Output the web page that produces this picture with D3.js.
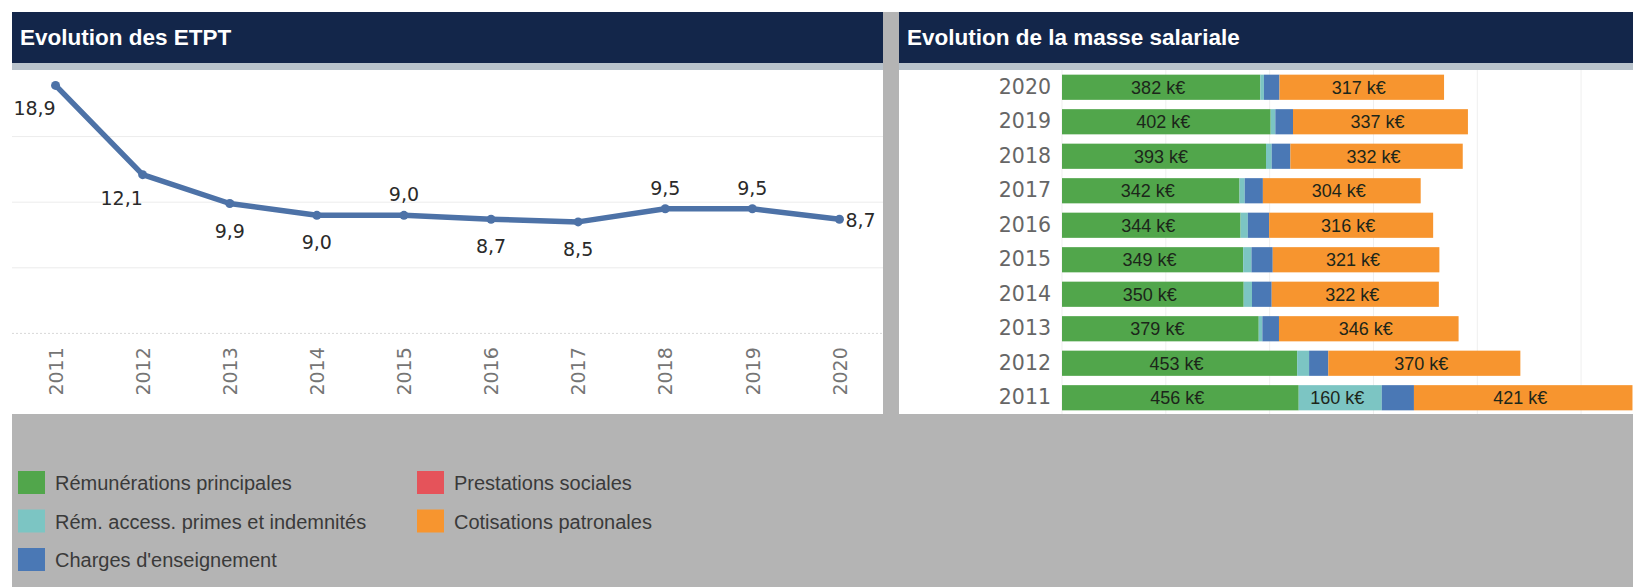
<!DOCTYPE html>
<html><head><meta charset="utf-8">
<script src="https://cdn.jsdelivr.net/npm/d3@7"></script>
<style>
html,body{margin:0;padding:0;background:#fff;}
svg{display:block;}
</style></head>
<body>
<svg id="chart" width="1633" height="587"></svg>
<script>
// ---------- DATA ----------
const years = ["2011","2012","2013","2014","2015","2016","2017","2018","2019","2020"];
const etpt = [18.9, 12.1, 9.9, 9.0, 9.0, 8.7, 8.5, 9.5, 9.5, 8.7];
const etptLabelPlace = ["leftBelow","leftBelow","below","below","above","below","below","above","above","right"];

const barYears = ["2020","2019","2018","2017","2016","2015","2014","2013","2012","2011"];
const remPrincipales = [382, 402, 393, 342, 344, 349, 350, 379, 453, 456];
const remAccess      = [7, 9, 11, 10, 14, 16, 16, 7, 23, 160];
const chargesEns     = [30, 34, 36, 35, 41, 41, 38, 32, 37, 62];
const prestations    = [0, 0, 0, 0, 0, 0, 0, 0, 0, 0];
const cotisations    = [317, 337, 332, 304, 316, 321, 322, 346, 370, 421];
const seriesNames = ["Rémunérations principales","Rém. access. primes et indemnités","Charges d'enseignement","Prestations sociales","Cotisations patronales"];
const seriesColors = ["#51a64b","#7cc5c3","#4a78b5","#e5535a","#f7952f"];
const xTicks = [0,200,400,600,800,1000];
const yTicks = [5,10,15];

// ---------- LAYOUT ----------
const svg = d3.select("#chart");
const W = 1633, H = 587;
const navy = "#13264a", strip = "#b9c3cc", gray = "#b4b4b4";

svg.append("rect").attr("x",12).attr("y",12).attr("width",W-12).attr("height",H-12).attr("fill",gray);

function panel(x, w, title){
  svg.append("rect").attr("x",x).attr("y",12).attr("width",w).attr("height",51).attr("fill",navy);
  svg.append("rect").attr("x",x).attr("y",63).attr("width",w).attr("height",7).attr("fill",strip);
  svg.append("rect").attr("x",x).attr("y",70).attr("width",w).attr("height",344).attr("fill","#fff");
  svg.append("text").attr("x",x+8).attr("y",45).text(title)
    .attr("fill","#fff").attr("font-family","'Liberation Sans', Arial, sans-serif")
    .attr("font-weight","bold").attr("font-size",22.5);
}
panel(12, 871, "Evolution des ETPT");
panel(899, 734, "Evolution de la masse salariale");

// ---------- LINE CHART ----------
const xL = d3.scalePoint().domain(years).range([12, 883]).padding(0.5);
const yL = d3.scaleLinear().domain([0, 20]).range([333.4, 71]);

const gL = svg.append("g");
gL.selectAll("line.grid").data(yTicks).join("line")
  .attr("x1",12).attr("x2",883).attr("y1",d=>yL(d)).attr("y2",d=>yL(d))
  .attr("stroke","#ececec").attr("stroke-width",1);
gL.append("line").attr("x1",12).attr("x2",883).attr("y1",yL(0)).attr("y2",yL(0))
  .attr("stroke","#d8d8d8").attr("stroke-dasharray","2,2");

const xAxisL = d3.axisBottom(xL).tickSize(0).tickPadding(0);
const ax = gL.append("g").attr("transform",`translate(0,${yL(0)})`).call(xAxisL);
ax.select(".domain").remove();
ax.selectAll("text")
  .attr("transform","rotate(-90)")
  .attr("x",-38).attr("y",0).attr("dy","0.35em")
  .attr("text-anchor","middle")
  .attr("font-family","'DejaVu Sans', sans-serif").attr("font-size",19)
  .attr("fill","#757575");

const line = d3.line().x((d,i)=>xL(years[i])).y(d=>yL(d));
gL.append("path").datum(etpt).attr("d",line).attr("fill","none")
  .attr("stroke","#4d72a7").attr("stroke-width",5.5).attr("stroke-linejoin","round");
gL.selectAll("circle").data(etpt).join("circle")
  .attr("cx",(d,i)=>xL(years[i])).attr("cy",d=>yL(d)).attr("r",4.5).attr("fill","#4d72a7");

const place = {
  leftBelow:{dx:-21,dy:30,anchor:"middle"},
  below:{dx:0,dy:34,anchor:"middle"},
  above:{dx:0,dy:-14,anchor:"middle"},
  right:{dx:6,dy:8,anchor:"start"}
};
gL.selectAll("text.lbl").data(etpt).join("text").attr("class","lbl")
  .attr("x",(d,i)=>xL(years[i])+place[etptLabelPlace[i]].dx)
  .attr("y",(d,i)=>yL(d)+place[etptLabelPlace[i]].dy)
  .attr("text-anchor",(d,i)=>place[etptLabelPlace[i]].anchor)
  .attr("font-family","'DejaVu Sans', sans-serif").attr("font-size",19)
  .attr("fill","#2a2a2a")
  .text(d=>d3.format(".1f")(d).replace(".",","));

// ---------- BAR CHART ----------
const yB = d3.scaleBand().domain(barYears).range([70, 415]).paddingInner(0.27).paddingOuter(0.135);
const xB = d3.scaleLinear().domain([0, 1100]).range([1062, 1633]);
const gB = svg.append("g");
gB.selectAll("line.vg").data(xTicks).join("line")
  .attr("x1",d=>xB(d)).attr("x2",d=>xB(d)).attr("y1",70).attr("y2",414)
  .attr("stroke","#efefef").attr("stroke-width",1);

const rows = barYears.map((y,i)=>({year:y, vals:[remPrincipales[i],remAccess[i],chargesEns[i],prestations[i],cotisations[i]]}));
const stack = d3.stack().keys([0,1,2,3,4]).value((d,k)=>d.vals[k]);
const stacked = stack(rows);

stacked.forEach((layer,k)=>{
  gB.selectAll(null).data(layer).join("rect")
    .attr("x",d=>xB(d[0])).attr("width",d=>Math.max(0,xB(d[1])-xB(d[0])))
    .attr("y",d=>yB(d.data.year)).attr("height",yB.bandwidth())
    .attr("fill",seriesColors[k]);
  gB.selectAll(null).data(layer.filter(d=>xB(d[1])-xB(d[0])>60)).join("text")
    .attr("x",d=>(xB(d[0])+xB(d[1]))/2 - 3).attr("y",d=>yB(d.data.year)+yB.bandwidth()/2)
    .attr("dy","0.36em").attr("text-anchor","middle")
    .attr("font-family","'Liberation Sans Narrow','Arial Narrow','Liberation Sans',sans-serif")
    .attr("font-size",18).attr("fill","#1c261a")
    .text(d=>(d[1]-d[0])+" k€");
});

const yAxisB = d3.axisLeft(yB).tickSize(0).tickPadding(11);
const ay = gB.append("g").attr("transform",`translate(1062,0)`).call(yAxisB);
ay.select(".domain").remove();
ay.selectAll("text").attr("font-family","'DejaVu Sans', sans-serif").attr("font-size",20.5).attr("fill","#666");

// ---------- LEGEND ----------
const legendCols = [[0,1,2],[3,4]];
const legX = [18, 417], legY0 = 471, legStep = 38.5;
legendCols.forEach((col,ci)=>{
  col.forEach((k,ri)=>{
    const g = svg.append("g").attr("transform",`translate(${legX[ci]},${legY0+ri*legStep})`);
    g.append("rect").attr("width",27).attr("height",23).attr("fill",seriesColors[k]);
    g.append("text").attr("x",37).attr("y",12).attr("dy","0.35em")
      .attr("font-family","'Liberation Sans Narrow','Arial Narrow','Liberation Sans',sans-serif")
      .attr("font-size",20).attr("fill","#3a3a3a").text(seriesNames[k]);
  });
});
</script>
</body></html>
